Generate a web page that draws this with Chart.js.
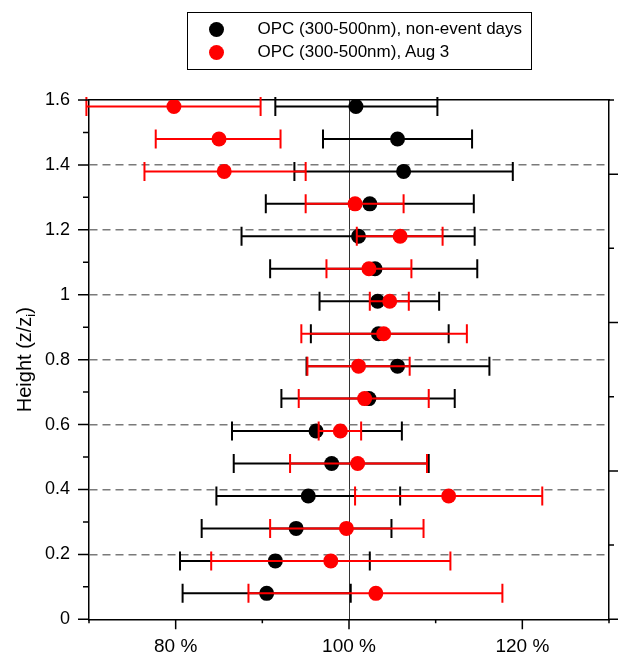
<!DOCTYPE html>
<html>
<head>
<meta charset="utf-8">
<script src="https://cdn.jsdelivr.net/npm/chart.js@4.4.1/dist/chart.umd.min.js"></script>
<style>
  body { margin: 0; background: #fff; }
  #wrap { position: relative; width: 625px; height: 659px; }
  #legend { position: absolute; left: 187px; top: 12px; width: 345px; height: 58px;
            border: 1.5px solid #000; box-sizing: border-box;
            font: 17px "Liberation Sans", Arial, sans-serif; color: #000; }
  .dot { position: absolute; width: 15px; height: 15px; border-radius: 50%; }
  .txt { position: absolute; height: 20px; line-height: 20px; white-space: nowrap; }
</style>
</head>
<body>
<div id="wrap">
  <canvas id="canvas" width="625" height="659"></canvas>
  <div id="legend"></div>
</div>
<script>
// heights (z/zi) of each row, bottom to top
var heights = [0.08, 0.18, 0.28, 0.38, 0.48, 0.58, 0.68, 0.78, 0.88, 0.98, 1.08, 1.18, 1.28, 1.38, 1.48, 1.58];

// OPC (300-500nm), non-event days  (percent)
var nonEventMid  = [90.5, 91.5, 93.9, 95.3, 98.0, 96.2, 102.3, 105.6, 103.4, 103.3, 103.0, 101.1, 102.4, 106.3, 105.6, 100.8];
var nonEventLow  = [80.8, 80.5, 83.0, 84.7, 86.7, 86.5, 92.2, 95.1, 95.6, 96.6, 90.9, 87.6, 90.4, 93.7, 97.0, 91.5];
var nonEventHigh = [100.2, 102.4, 104.9, 105.9, 109.2, 106.1, 112.2, 116.2, 111.5, 110.4, 114.8, 114.5, 114.4, 118.9, 114.2, 110.2];

// OPC (300-500nm), Aug 3  (percent)
var aug3Mid  = [103.1, 97.9, 99.7, 111.5, 101.0, 99.0, 101.8, 101.1, 104.0, 104.7, 102.3, 105.9, 100.7, 85.6, 85.0, 79.8];
var aug3Low  = [88.4, 84.1, 90.9, 100.7, 93.2, 96.5, 94.2, 95.2, 94.5, 102.4, 97.4, 100.9, 95.0, 76.4, 77.7, 69.7];
var aug3High = [117.7, 111.7, 108.6, 122.3, 109.0, 101.4, 109.2, 107.0, 113.6, 106.9, 107.2, 110.8, 106.3, 95.0, 92.1, 89.8];

var seriesNames = ['OPC (300-500nm), non-event days', 'OPC (300-500nm), Aug 3'];

var xTickValues = [80, 100, 120];
var xTickLabels = ['80 %', '100 %', '120 %'];
var yTickValues = [0, 0.2, 0.4, 0.6, 0.8, 1, 1.2, 1.4, 1.6];
var yTickLabels = ['0', '0.2', '0.4', '0.6', '0.8', '1', '1.2', '1.4', '1.6'];

function points(xs) {
    return xs.map(function (v, i) { return { x: v, y: heights[i] }; });
}

function yLabelFor(v) {
    for (var k = 0; k < yTickValues.length; k++) {
        if (Math.abs(v - yTickValues[k]) < 1e-6) return yTickLabels[k];
    }
    return '';
}

// horizontal error bars, drawn just before each dataset's points
var errorBars = {
    id: 'errorBars',
    beforeDatasetDraw: function (chart, args) {
        var ds = chart.data.datasets[args.index];
        if (!ds.lows) return;
        var ctx = chart.ctx, x = chart.scales.x, y = chart.scales.y;
        ctx.save();
        ctx.strokeStyle = ds.backgroundColor;
        ctx.lineWidth = 2;
        ds.data.forEach(function (p, i) {
            var yp = y.getPixelForValue(p.y);
            var x1 = x.getPixelForValue(ds.lows[i]);
            var x2 = x.getPixelForValue(ds.highs[i]);
            ctx.beginPath();
            ctx.moveTo(x1, yp); ctx.lineTo(x2, yp);
            ctx.moveTo(x1, yp - 9.5); ctx.lineTo(x1, yp + 9.5);
            ctx.moveTo(x2, yp - 9.5); ctx.lineTo(x2, yp + 9.5);
            ctx.stroke();
        });
        ctx.restore();
    }
};

// outward tick marks, long for labelled ticks and short for the rest
var tickMarks = {
    id: 'tickMarks',
    afterDraw: function (chart) {
        var ctx = chart.ctx, a = chart.chartArea, s = chart.scales;
        ctx.save();
        ctx.strokeStyle = '#000';
        ctx.lineWidth = 1.5;
        ctx.beginPath();
        s.x.ticks.forEach(function (t) {
            var px = s.x.getPixelForValue(t.value);
            var len = xTickValues.indexOf(t.value) >= 0 ? 10 : 4;
            ctx.moveTo(px, a.bottom); ctx.lineTo(px, a.bottom + len);
        });
        s.y.ticks.forEach(function (t) {
            var py = s.y.getPixelForValue(t.value);
            var len = yLabelFor(t.value) !== '' ? 11 : 6;
            ctx.moveTo(a.left, py); ctx.lineTo(a.left - len, py);
        });
        s.y2.ticks.forEach(function (t) {
            var py = s.y2.getPixelForValue(t.value);
            var len = t.value % 2 === 0 ? 9 : 5;
            ctx.moveTo(a.right, py); ctx.lineTo(a.right + len, py);
        });
        ctx.stroke();
        ctx.restore();
    }
};

// y axis title with a real subscript
var yTitle = {
    id: 'yTitle',
    afterDraw: function (chart) {
        var ctx = chart.ctx, a = chart.chartArea;
        var main = '20px "Liberation Sans", Arial, sans-serif';
        var sub = '13px "Liberation Sans", Arial, sans-serif';
        ctx.save();
        ctx.font = main;
        var w1 = ctx.measureText('Height (z/z').width;
        var w3 = ctx.measureText(')').width;
        ctx.font = sub;
        var w2 = ctx.measureText('i').width;
        var start = -(w1 + w2 + w3) / 2;
        ctx.translate(31, (a.top + a.bottom) / 2);
        ctx.rotate(-Math.PI / 2);
        ctx.fillStyle = '#000';
        ctx.textBaseline = 'alphabetic';
        ctx.font = main;
        ctx.fillText('Height (z/z', start, 0);
        ctx.font = sub;
        ctx.fillText('i', start + w1, 4);
        ctx.font = main;
        ctx.fillText(')', start + w1 + w2, 0);
        ctx.restore();
    }
};

window.onload = function () {
    var ctx = document.getElementById('canvas').getContext('2d');
    var chart = new Chart(ctx, {
        type: 'scatter',
        data: {
            datasets: [{
                label: seriesNames[0],
                data: points(nonEventMid),
                lows: nonEventLow,
                highs: nonEventHigh,
                backgroundColor: '#000000',
                pointRadius: 7.5,
                pointBorderWidth: 0,
                order: 2
            }, {
                label: seriesNames[1],
                data: points(aug3Mid),
                lows: aug3Low,
                highs: aug3High,
                backgroundColor: '#ff0000',
                pointRadius: 7.5,
                pointBorderWidth: 0,
                order: 1
            }]
        },
        options: {
            responsive: false,
            animation: false,
            layout: { padding: { top: 100, left: 0, right: 0, bottom: 0 } },
            plugins: {
                legend: { display: false },
                tooltip: { enabled: false }
            },
            scales: {
                x: {
                    position: 'bottom',
                    min: 70, max: 130,
                    afterFit: function (s) { s.height = 39.7; },
                    ticks: {
                        stepSize: 10, autoSkip: false, maxRotation: 0, padding: 16,
                        color: '#000',
                        font: { family: '"Liberation Sans", Arial, sans-serif', size: 19 },
                        callback: function (v) {
                            var i = xTickValues.indexOf(v);
                            return i >= 0 ? xTickLabels[i] : '';
                        }
                    },
                    grid: {
                        drawTicks: false,
                        lineWidth: 1,
                        color: function (c) { return c.tick && c.tick.value === 100 ? '#333333' : 'rgba(0,0,0,0)'; }
                    },
                    border: { color: '#000', width: 1.5 }
                },
                x2: {
                    position: 'top',
                    min: 70, max: 130,
                    afterFit: function (s) { s.height = 0; },
                    ticks: { display: false },
                    grid: { display: false },
                    border: { color: '#000', width: 1.5 }
                },
                y: {
                    position: 'left',
                    min: 0, max: 1.6,
                    afterFit: function (s) { s.width = 89; },
                    ticks: {
                        stepSize: 0.1, autoSkip: false, padding: 19,
                        color: '#000',
                        font: { family: '"Liberation Sans", Arial, sans-serif', size: 18 },
                        callback: function (v) { return yLabelFor(v); }
                    },
                    grid: {
                        drawTicks: false,
                        lineWidth: 1.5,
                        color: function (c) {
                            if (!c.tick) return 'rgba(0,0,0,0)';
                            var lab = yLabelFor(c.tick.value);
                            return lab !== '' && lab !== '0' && lab !== '1.6' ? '#7a7a7a' : 'rgba(0,0,0,0)';
                        }
                    },
                    border: { color: '#000', width: 1.5, dash: [8, 5] }
                },
                y2: {
                    position: 'right',
                    min: 0, max: 7,
                    afterFit: function (s) { s.width = 9.3; },
                    ticks: { display: false, stepSize: 1 },
                    grid: { display: false },
                    border: { color: '#000', width: 1.5 }
                }
            }
        },
        plugins: [errorBars, tickMarks, yTitle]
    });

    // boxed legend built from the chart's datasets
    var legend = document.getElementById('legend');
    chart.data.datasets.forEach(function (ds, i) {
        var cy = 16 + i * 23.4;
        var dot = document.createElement('span');
        dot.className = 'dot';
        dot.style.background = ds.backgroundColor;
        dot.style.left = '20.5px';
        dot.style.top = (cy - 7.5) + 'px';
        var txt = document.createElement('span');
        txt.className = 'txt';
        txt.textContent = ds.label;
        txt.style.left = '69.5px';
        txt.style.top = (cy - 10) + 'px';
        legend.appendChild(dot);
        legend.appendChild(txt);
    });
};
</script>
</body>
</html>
